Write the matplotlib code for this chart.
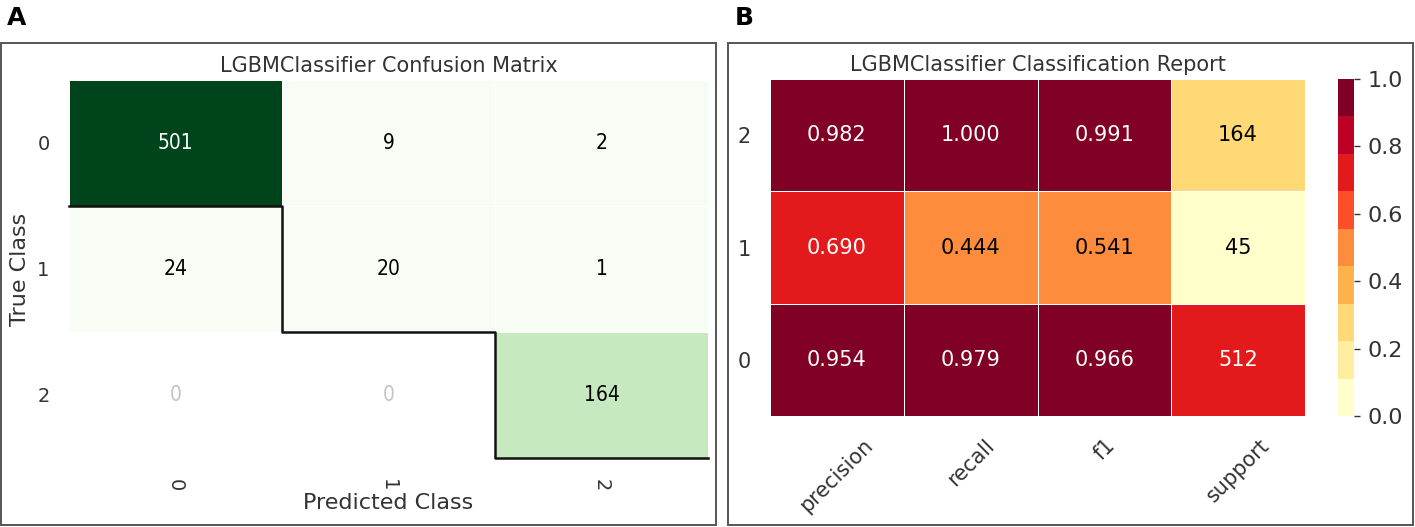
import numpy as np
import matplotlib
matplotlib.use("Agg")
import matplotlib.pyplot as plt
from matplotlib.patches import Rectangle

# Data
classes = ["0", "1", "2"]
confusion = np.array([[501, 9, 2],
                      [24, 20, 1],
                      [0, 0, 164]])

metrics = ["precision", "recall", "f1", "support"]
precision = [0.954, 0.690, 0.982]
recall = [0.979, 0.44446, 1.000]
f1 = [0.966, 0.541, 0.991]
support = [512, 45, 164]

W, H = 1415, 527
fig = plt.figure(figsize=(W / 100, H / 100), dpi=100)
txt = "#333333"


def box(x0, y0, x1, y1):
    # rectangle in pixel coords (top-left origin) -> figure fraction
    return [x0 / W, 1 - y1 / H, (x1 - x0) / W, (y1 - y0) / H]


# panel borders
for x0, x1 in [(1, 716), (728, 1413)]:
    l, b, w, h = box(x0, 43, x1, 525)
    fig.add_artist(Rectangle((l, b), w, h, transform=fig.transFigure,
                             fill=False, edgecolor="#555555", linewidth=1.4))

fig.text(7 / W, 1 - 25 / H, "A", fontsize=18, fontweight="bold", va="baseline")
fig.text(735 / W, 1 - 25 / H, "B", fontsize=18, fontweight="bold", va="baseline")

# ---- A: confusion matrix ----
axA = fig.add_axes(box(69, 80, 708, 458))
n = len(classes)
masked = np.ma.masked_equal(confusion, 0)
axA.pcolormesh(masked, cmap=plt.get_cmap("Greens", 9), vmin=0, vmax=confusion.max(),
               edgecolors="white", linewidth=0.6)
axA.set_xlim(0, n)
axA.set_ylim(n, 0)
for i in range(n):
    for j in range(n):
        v = confusion[i, j]
        if v == 0:
            c = "#c4c4c4"
        elif v / confusion.max() > 0.5:
            c = "white"
        else:
            c = "black"
        axA.text(j + 0.5, i + 0.5, str(v), ha="center", va="center",
                 fontsize=15, color=c, fontstretch="condensed")

xs = np.repeat(np.arange(n + 1), 2)[1:-1]
ys = np.repeat(np.arange(1, n + 1), 2)
axA.plot(xs, ys, color="#111111", linewidth=1.8, clip_on=False)

axA.set_xticks(np.arange(n) + 0.5)
axA.set_xticklabels(classes, rotation=-90)
axA.set_yticks(np.arange(n) + 0.5)
axA.set_yticklabels(classes)
axA.tick_params(axis="both", length=0, labelsize=14, labelcolor=txt)
axA.tick_params(axis="y", pad=14)
axA.tick_params(axis="x", pad=15)
for s in axA.spines.values():
    s.set_visible(False)
axA.set_title("LGBMClassifier Confusion Matrix", fontsize=15, color=txt, pad=6)
axA.set_xlabel("Predicted Class", fontsize=16, color=txt, labelpad=1)
axA.set_ylabel("True Class", fontsize=16, color=txt, labelpad=5)

# ---- B: classification report ----
axB = fig.add_axes(box(770, 79, 1305, 416))
scores = np.array([precision, recall, f1, support], dtype=float).T
colors = scores.copy()
colors[:, 3] = scores[:, 3] / scores[:, 3].sum()
cmap = plt.get_cmap("YlOrRd", 9)
mesh = axB.pcolormesh(colors, cmap=cmap, vmin=0, vmax=1,
                      edgecolors="white", linewidth=0.6)
axB.set_xlim(0, len(metrics))
axB.set_ylim(0, n)
for i in range(n):
    for j in range(len(metrics)):
        label = "{:d}".format(int(scores[i, j])) if j == 3 else "{:.3f}".format(scores[i, j])
        c = "white" if colors[i, j] >= 0.6 else "black"
        axB.text(j + 0.5, i + 0.5, label, ha="center", va="center",
                 fontsize=15, color=c)

axB.set_xticks(np.arange(len(metrics)) + 0.5)
axB.set_xticklabels(metrics, rotation=45, ha="center")
axB.set_yticks(np.arange(n) + 0.5)
axB.set_yticklabels(classes)
axB.tick_params(axis="both", length=0, labelsize=15, labelcolor=txt)
axB.tick_params(axis="y", pad=14)
axB.tick_params(axis="x", pad=14)
for s in axB.spines.values():
    s.set_visible(False)
axB.set_title("LGBMClassifier Classification Report", fontsize=15, color=txt, pad=6)

cax = fig.add_axes(box(1338, 79, 1354, 416))
cb = fig.colorbar(mesh, cax=cax, ticks=[0.0, 0.2, 0.4, 0.6, 0.8, 1.0])
cb.outline.set_visible(False)
cb.ax.tick_params(length=4, width=1, color=txt, labelsize=16, labelcolor=txt, pad=6)

fig.savefig("out.png", dpi=100)
